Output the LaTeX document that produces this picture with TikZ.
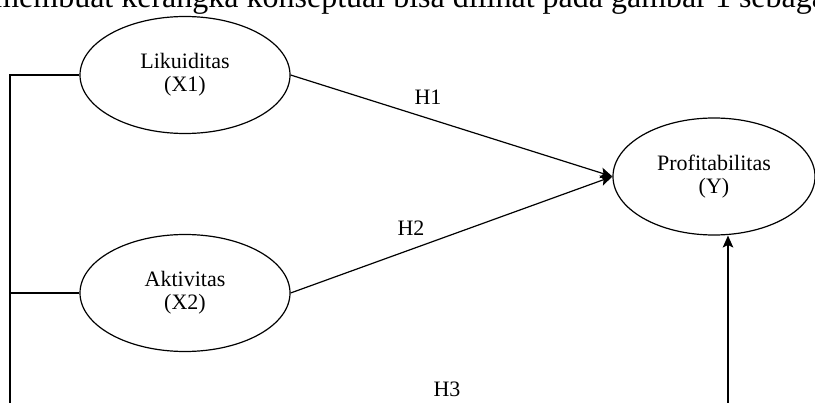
\documentclass[tikz,border=0pt]{standalone}
\usepackage{fontspec}
\setmainfont{Liberation Serif}
\usetikzlibrary{shapes.geometric,arrows.meta}

\tikzset{
    var/.style={draw, ellipse, line width=0.9pt, minimum width=157.5pt, minimum height=87.75pt, inner sep=0pt, align=center, font=\fontsize{16.5}{17.25}\selectfont},
    hyp/.style={font=\fontsize{16.5}{17.25}\selectfont, inner sep=0pt},
    link/.style={line width=0.9pt},
    tip/.style={line width=0.9pt, -{Stealth[length=9pt, width=8pt, inset=2pt]}}
}

\begin{document}
\begin{tikzpicture}[x=0.75pt, y=-0.75pt]

    \useasboundingbox (0,0) rectangle (815,403);
    \clip (0,0) rectangle (815,403);

    \node[anchor=base west, inner sep=0pt, font=\fontsize{24}{24}\selectfont] (caption) at (-6,8) {membuat kerangka konseptual bisa dilihat pada gambar 1 sebagai};

    \node[var] (x1) at (185,75) {Likuiditas\\(X1)};
    \node[var] (x2) at (185,293) {Aktivitas\\(X2)};
    \node[var, minimum width=151.5pt] (y) at (714,176.5) {Profitabilitas\\(Y)};

    \coordinate (left) at (10,403);
    \coordinate (h3base) at (728,403);

    \draw[link] (x1.west) -- (x1.west -| left) -- (left);
    \draw[link] (x2.west) -- (x2.west -| left);

    \draw[tip] (x1.east) -- (y.west);
    \draw[tip] (x2.east) -- (y.west);
    \draw[tip] (h3base) -- (h3base |- y.south);

    \node[hyp] (h1) at (428,97) {H1};
    \node[hyp] (h2) at (411,228) {H2};
    \node[hyp] (h3) at (447,389) {H3};

\end{tikzpicture}
\end{document}
